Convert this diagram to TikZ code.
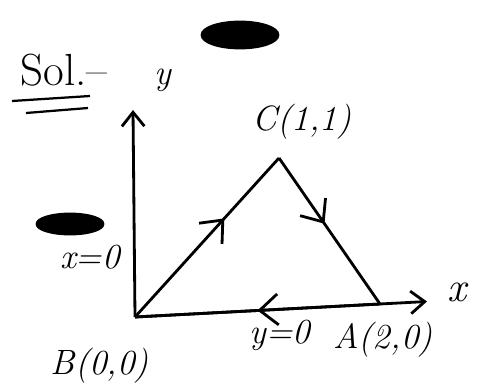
\documentclass[tikz,border=0pt]{standalone}
\usetikzlibrary{arrows.meta,decorations.markings}

\begin{document}
\begin{tikzpicture}[x=0.025cm, y=-0.025cm, line width=2pt,
	axis/.style={-{Straight Barb[length=10pt,width=16pt]}},
	midarrow/.style={postaction={decorate},
		decoration={markings, mark=at position #1 with {\arrow{Straight Barb[length=13pt,width=22pt]}}}},
	lbl/.style={font=\fontsize{25}{30}\selectfont\itshape, inner sep=1pt},
	scribble/.style={fill=black, draw=black}]
	
	% Frame
	\useasboundingbox (0,0) rectangle (481,389);
	
	% Points
	\coordinate (B) at (135,317);
	\coordinate (A) at (380,304);
	\coordinate (C) at (279,158);
	\coordinate (xtip) at (427,301.5);
	\coordinate (ytip) at (133,110);
	
	% Axes
	\draw[axis] (B) -- (ytip);
	\draw[axis] (B) -- (xtip);
	
	% Triangle
	\draw[midarrow=0.62] (B) -- (C);
	\draw[midarrow=0.45] (C) -- (A);
	\draw[midarrow=0.5] (A) -- (B);
	
	% Heading
	\node[lbl, font=\fontsize{32}{36}\selectfont] (sol) at (64,70) {Sol.--};
	\draw[line width=1.6pt] (12,101) -- (90,96);
	\draw[line width=1.6pt] (26,113) -- (88,108);
	
	% Scribbled out
	\draw[scribble] (240,35) ellipse (38 and 13);
	\draw[scribble] (70,224) ellipse (33 and 10);
	
	% Labels
	\node[lbl] (ylab) at (163,80) {y};
	\node[lbl, font=\fontsize{30}{34}\selectfont\itshape] (xlab) at (457,292) {x};
	\node[lbl] (Clab) at (302,122) {C(1,1)};
	\node[lbl] (Alab) at (383,340) {A(2,0)};
	\node[lbl] (Blab) at (100,366) {B(0,0)};
	\node[lbl] (x0) at (90,257) {x=0};
	\node[lbl] (y0) at (280,335) {y=0};
	
\end{tikzpicture}
\end{document}
